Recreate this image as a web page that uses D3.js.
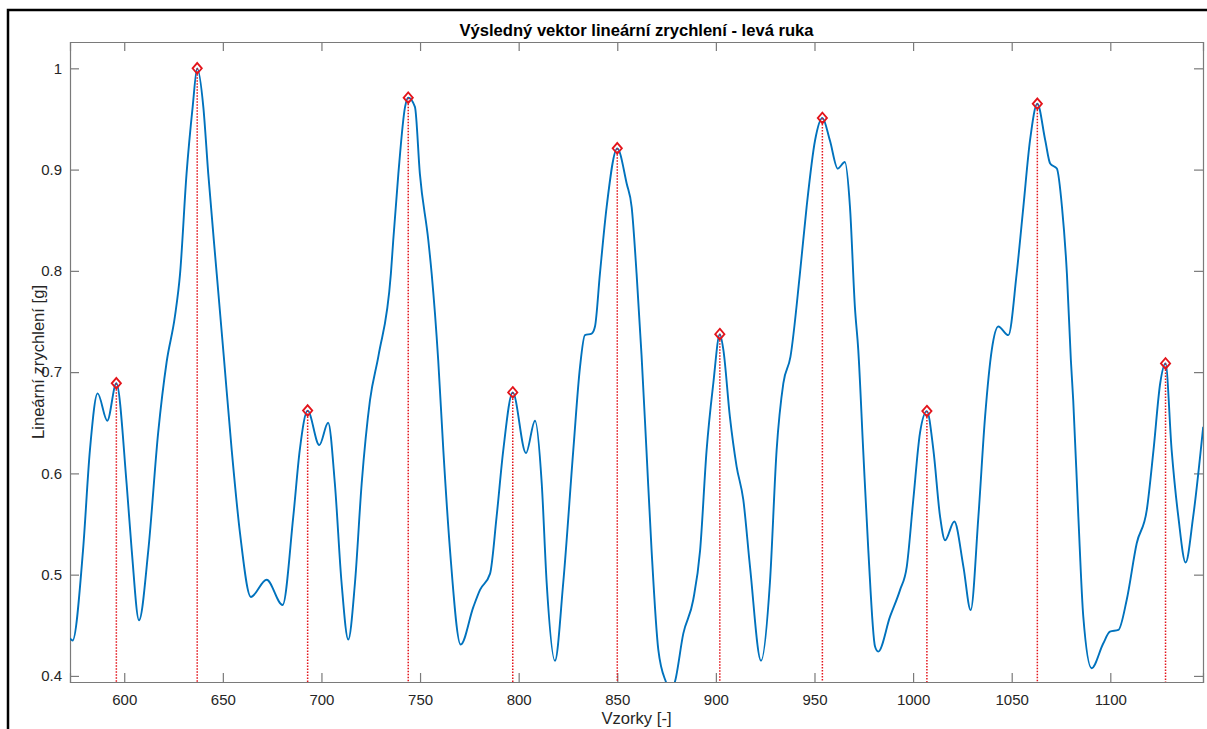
<!DOCTYPE html>
<html><head><meta charset="utf-8">
<script src="https://cdn.jsdelivr.net/npm/d3@7"></script>
<style>html,body{margin:0;padding:0;background:#fff;overflow:hidden}</style>
</head><body>
<svg id="c" width="1207" height="729"></svg>
<script>
const sampleX = [572.5,573.8,579.1,582.6,586.5,591.4,596,601.2,603.8,607.5,612.2,617.2,621.5,625.7,628.3,631.6,634.7,637,640.1,642.6,646.9,650.5,654.5,658.7,664.2,672.2,680.3,685.7,689,693,698.9,703.4,706.8,710.2,713.6,717,720.4,724.6,729,735.2,736.4,739,742.4,744,747.4,749.9,754.2,755.9,759.2,761.8,765.2,770.6,777,780.4,785.5,788.8,792.2,797,803.7,808.3,811.7,814.2,818.4,822.6,827.7,831.1,833.6,837,838.7,841.2,844.6,850,854.8,857.3,859.8,862.3,864.8,867.4,870.8,874.7,877,879.2,883.5,888.5,892,895.3,898.7,902,903.8,907.1,910.5,913.9,917.3,922.9,927.4,930.8,934.2,937.8,942.6,946,950.3,954,957.8,961.8,965.4,968,970.5,972.2,974.7,977.3,980.7,982.3,988.3,993.4,996.8,1000.1,1003.5,1007,1010.3,1013.7,1016.2,1020.9,1025.5,1029.2,1033.1,1036.5,1039.9,1043.2,1048.3,1052.5,1055.9,1059.3,1063,1067,1069.5,1072.9,1075.5,1078,1080,1081.2,1083.8,1086.3,1090.5,1096.4,1099.8,1104.1,1108.3,1113.4,1118.5,1121.9,1125.3,1128,1131.1,1134.5,1138.2,1142,1147.1];
const accel = [0.437,0.435,0.524,0.623,0.679,0.652,0.689,0.590,0.524,0.455,0.524,0.640,0.710,0.755,0.797,0.896,0.962,1.000,0.962,0.896,0.797,0.715,0.623,0.541,0.478,0.495,0.470,0.557,0.623,0.662,0.628,0.650,0.590,0.492,0.436,0.492,0.590,0.672,0.717,0.797,0.830,0.896,0.962,0.971,0.962,0.896,0.830,0.797,0.712,0.623,0.524,0.431,0.468,0.485,0.501,0.557,0.623,0.680,0.620,0.652,0.590,0.492,0.415,0.492,0.623,0.705,0.7365,0.738,0.745,0.797,0.863,0.921,0.886,0.863,0.797,0.717,0.623,0.524,0.426,0.394,0.385,0.394,0.442,0.475,0.524,0.623,0.689,0.7375,0.722,0.656,0.607,0.574,0.508,0.415,0.492,0.623,0.689,0.715,0.797,0.863,0.929,0.951,0.929,0.901,0.9075,0.863,0.764,0.722,0.623,0.524,0.429,0.424,0.4585,0.485,0.508,0.574,0.640,0.6615,0.623,0.557,0.534,0.5525,0.508,0.465,0.557,0.656,0.722,0.745,0.7365,0.797,0.863,0.929,0.965,0.929,0.906,0.901,0.863,0.797,0.712,0.672,0.557,0.4585,0.4076,0.432,0.4437,0.4454,0.475,0.531,0.564,0.623,0.689,0.7086,0.623,0.557,0.512,0.557,0.646];
const peakX = [596,637,693,744,797,850,902,954,1007,1063,1128];
const peakY = [0.689,1.0,0.662,0.971,0.680,0.921,0.7375,0.951,0.6615,0.965,0.7086];
const xTicks = [600,650,700,750,800,850,900,950,1000,1050,1100];
const yTicks = [0.4,0.5,0.6,0.7,0.8,0.9,1];
const titleText = "Výsledný vektor lineární zrychlení - levá ruka";
const xLabel = "Vzorky [-]";
const yLabel = "Lineární zrychlení [g]";

const L=70, T=42, R=1203, B=682;
const svg = d3.select("#c");
const x = d3.scaleLinear().domain([572.5,1147]).range([L,R]);
const y = d3.scaleLinear().domain([0.394,1.026]).range([B,T]);
const font = "'Liberation Sans', Arial, Helvetica, sans-serif";

svg.append("rect").attr("x",8).attr("y",10).attr("width",1300).attr("height",800)
  .attr("fill","none").attr("stroke","#000").attr("stroke-width",2.5);

svg.append("defs").append("clipPath").attr("id","clip")
  .append("rect").attr("x",L).attr("y",T).attr("width",R-L).attr("height",B-T);

const axColor = "#7a7a7a", txtColor = "#262626";
const tl = 9;
const gx = svg.append("g").attr("transform",`translate(0,${B})`)
  .call(d3.axisBottom(x).tickValues(xTicks).tickSize(-tl).tickPadding(12).tickFormat(d3.format("d")));
const gxt = svg.append("g").attr("transform",`translate(0,${T})`)
  .call(d3.axisTop(x).tickValues(xTicks).tickSize(-tl).tickFormat(""));
const gy = svg.append("g").attr("transform",`translate(${L},0)`)
  .call(d3.axisLeft(y).tickValues(yTicks).tickSize(-tl).tickPadding(8).tickFormat(d=>d3.format("")(+d.toFixed(1))));
const gyr = svg.append("g").attr("transform",`translate(${R},0)`)
  .call(d3.axisRight(y).tickValues(yTicks).tickSize(-tl).tickFormat(""));
[gx,gxt,gy,gyr].forEach(g=>{
  g.select(".domain").attr("stroke",axColor).attr("stroke-width",1.2);
  g.selectAll(".tick line").attr("stroke",axColor).attr("stroke-width",1.2);
  g.selectAll("text").attr("fill",txtColor).style("font-family",font).style("font-size","15px");
});
gx.selectAll(".tick text").attr("dy","0.71em");

const plot = svg.append("g").attr("clip-path","url(#clip)");
const pts = sampleX.map((d,i)=>[d,accel[i]]);
plot.append("path").datum(pts)
  .attr("d", d3.line().x(d=>x(d[0])).y(d=>y(d[1])).curve(d3.curveMonotoneX))
  .attr("fill","none").attr("stroke","#0072BD").attr("stroke-width",1.9);

const peaks = peakX.map((d,i)=>[d,peakY[i]]);
plot.selectAll(".stem").data(peaks).enter().append("line")
  .attr("x1",d=>x(d[0])).attr("x2",d=>x(d[0]))
  .attr("y1",d=>y(d[1])).attr("y2",B)
  .attr("stroke","#e3141b").attr("stroke-width",1.5).attr("stroke-dasharray","1.5,1.5");
svg.selectAll(".pk").data(peaks).enter().append("path")
  .attr("d", d3.symbol().type(d3.symbolDiamond2).size(60))
  .attr("transform",d=>`translate(${x(d[0])},${y(d[1])}) scale(0.95,1.1)`)
  .attr("fill","none").attr("stroke","#e3141b").attr("stroke-width",1.8);

svg.append("text").attr("x",(L+R)/2).attr("y",36).attr("text-anchor","middle")
  .style("font-family",font).style("font-size","16.6px").style("font-weight","bold").attr("fill","#000")
  .text(titleText);
svg.append("text").attr("x",(L+R)/2).attr("y",724).attr("text-anchor","middle")
  .style("font-family",font).style("font-size","16.6px").attr("fill",txtColor).text(xLabel);
svg.append("text").attr("transform",`translate(44,${(T+B)/2}) rotate(-90)`).attr("text-anchor","middle")
  .style("font-family",font).style("font-size","16.6px").attr("fill",txtColor).text(yLabel);
</script>
</body></html>
